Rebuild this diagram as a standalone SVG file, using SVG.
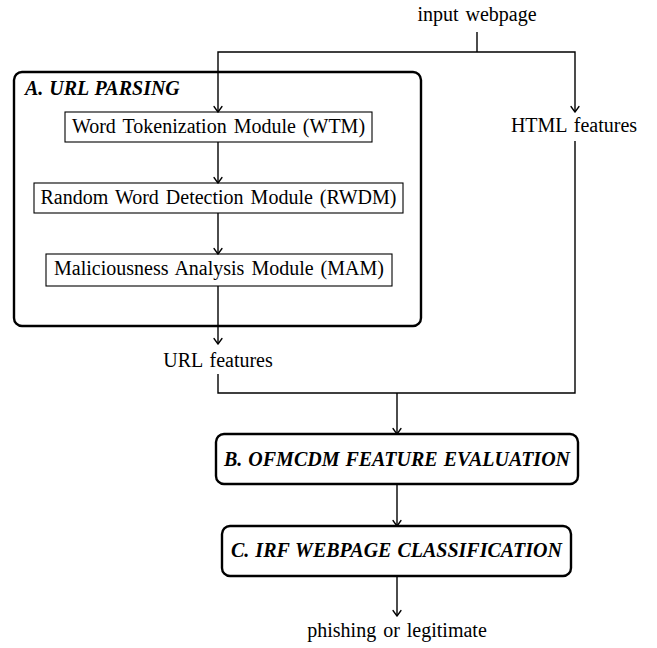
<svg xmlns="http://www.w3.org/2000/svg" width="657" height="648" viewBox="0 0 657 648">
<style>
text{font-family:"Liberation Serif","Times New Roman",serif;font-size:20px;fill:#000;word-spacing:2px}
.c{text-anchor:middle}
.bi{font-weight:bold;font-style:italic;word-spacing:1px}
.conn{fill:none;stroke:#000;stroke-width:1.4}
.mod{fill:#fff;stroke:#000;stroke-width:1.1}
.grp{fill:none;stroke:#000;stroke-width:2.4}
</style>
<defs>
<marker id="ah" markerUnits="userSpaceOnUse" markerWidth="14" markerHeight="14" viewBox="-7 -7 14 14" refX="0" refY="0" orient="auto" overflow="visible">
<path d="M-5.5,-4 Q-1.7,-1.3 0,0 Q-1.7,1.3 -5.5,4" fill="none" stroke="#000" stroke-width="1.3" stroke-linecap="round"/>
</marker>
</defs>
<g id="input"><text class="c" x="477" y="21">input webpage</text></g>
<g id="urlparsing">
<rect class="grp" x="14" y="72" width="407" height="254" rx="8"/>
<text class="bi" x="25" y="95">A. URL PARSING</text>
</g>
<g id="wtm"><rect class="mod" x="65" y="112" width="307" height="30"/><text class="c" x="218.5" y="133">Word Tokenization Module (WTM)</text></g>
<g id="rwdm"><rect class="mod" x="34" y="183" width="369" height="30"/><text class="c" x="218.5" y="204">Random Word Detection Module (RWDM)</text></g>
<g id="mam"><rect class="mod" x="46" y="254" width="346" height="32"/><text class="c" x="219" y="275">Maliciousness Analysis Module (MAM)</text></g>
<g id="urlfeat"><text class="c" x="218" y="367">URL features</text></g>
<g id="htmlfeat"><text class="c" x="574" y="132">HTML features</text></g>
<g id="ofmcdm"><rect class="grp" x="216" y="434" width="362" height="50" rx="8"/><text class="c bi" x="397" y="466">B. OFMCDM FEATURE EVALUATION</text></g>
<g id="irf"><rect class="grp" x="222" y="526" width="349" height="50" rx="8"/><text class="c bi" x="396.5" y="557">C. IRF WEBPAGE CLASSIFICATION</text></g>
<g id="output"><text class="c" x="397" y="637">phishing or legitimate</text></g>
<g id="connectors">
<path class="conn" d="M477,32 V52"/>
<path class="conn" d="M477,52 H218 V112" marker-end="url(#ah)"/>
<path class="conn" d="M477,52 H575 V112" marker-end="url(#ah)"/>
<path class="conn" d="M218,142 V183" marker-end="url(#ah)"/>
<path class="conn" d="M218,213 V254" marker-end="url(#ah)"/>
<path class="conn" d="M218,286 V344" marker-end="url(#ah)"/>
<path class="conn" d="M218,374 V393 H575 V141"/>
<path class="conn" d="M397,393 V434" marker-end="url(#ah)"/>
<path class="conn" d="M397,484 V526" marker-end="url(#ah)"/>
<path class="conn" d="M397,576 V616" marker-end="url(#ah)"/>
</g>
</svg>
